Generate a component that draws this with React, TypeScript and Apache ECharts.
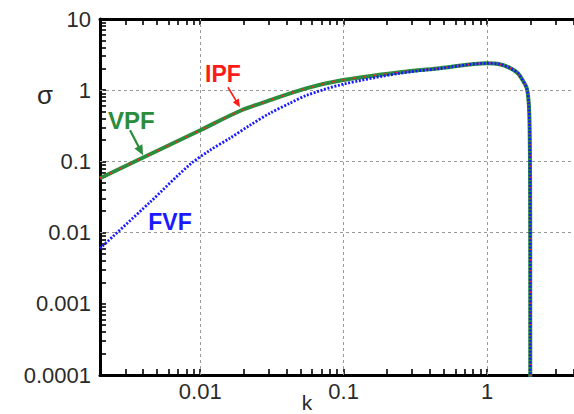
import React, { useEffect, useRef } from "react";
import * as echarts from "echarts";

// ---- data ----
const vpfK = [0.002, 0.0033, 0.01, 0.0189, 0.0306, 0.0555, 0.097, 0.247, 0.468, 1.0, 1.22, 1.44, 1.64, 1.77, 1.89, 1.95, 1.98, 1.995, 1.999, 1.9999, 2.0];
const vpfSigma = [0.058, 0.094, 0.274, 0.51, 0.724, 1.07, 1.38, 1.79, 2.04, 2.39, 2.32, 2.06, 1.73, 1.38, 1.07, 0.68, 0.3, 0.05, 0.005, 0.0003, 0.00001];

const ipfK = [0.002, 0.0033, 0.01, 0.0189, 0.0306, 0.0555, 0.097, 0.247, 0.468, 1.0, 1.22, 1.44, 1.64, 1.77, 1.89, 1.95, 1.98, 1.995, 1.999, 1.9999, 2.0];
const ipfSigma = [0.058, 0.094, 0.274, 0.51, 0.724, 1.07, 1.38, 1.79, 2.04, 2.39, 2.32, 2.06, 1.73, 1.38, 1.07, 0.68, 0.3, 0.05, 0.005, 0.0003, 0.00001];

const fvfK = [0.002, 0.00446, 0.00847, 0.0117, 0.0161, 0.0222, 0.0306, 0.0422, 0.0555, 0.097, 0.247, 0.468, 1.0, 1.22, 1.44, 1.64, 1.77, 1.89, 1.95, 1.98, 1.995, 1.999, 1.9999, 2.0];
const fvfSigma = [0.006, 0.0267, 0.0904, 0.1436, 0.212, 0.322, 0.475, 0.657, 0.851, 1.2, 1.73, 2.02, 2.39, 2.32, 2.06, 1.73, 1.38, 1.07, 0.68, 0.3, 0.05, 0.005, 0.0003, 0.00001];

const xLabelValues = [0.01, 0.1, 1];
const xLabelTexts = ["0.01", "0.1", "1"];
const yLabelValues = [0.0001, 0.001, 0.01, 0.1, 1, 10];
const yLabelTexts = ["0.0001", "0.001", "0.01", "0.1", "1", "10"];
const xGridValues = [0.01, 0.1, 1];
const yGridValues = [0.001, 0.01, 0.1, 1];

const X_MIN = 0.002;
const X_MAX = 10;
const Y_MIN = 0.0001;
const Y_MAX = 10;

// annotation anchors in data space
const annotations = [
  { text: "IPF", color: "#ff1a1a", k: 0.0144, s: 1.71, size: 23 },
  { text: "VPF", color: "#2b8c3c", k: 0.00331, s: 0.379, size: 24 },
  { text: "FVF", color: "#1a1aff", k: 0.00615, s: 0.0142, size: 23 },
];
const arrows = [
  { color: "#ff1a1a", k1: 0.0156, s1: 1.1, k2: 0.0189, s2: 0.577, w: 1.6, head: 8, hw: 3.5 },
  { color: "#2b8c3c", k1: 0.00324, s1: 0.274, k2: 0.00399, s2: 0.122, w: 2.2, head: 10, hw: 4.5 },
];

const FONT = '"Liberation Sans", Arial, sans-serif';
const CHART_W = 640;
const CHART_H = 414;

function decadeTicks(min: number, max: number, decades: number[]) {
  const out: number[] = [];
  decades.forEach((d) => {
    for (let m = 1; m <= 9; m++) {
      const v = d * m;
      if (v >= min * 0.999 && v <= max * 1.001) out.push(v);
    }
  });
  out.push(max);
  return out;
}

const xTicks = decadeTicks(X_MIN, X_MAX, [0.001, 0.01, 0.1, 1]);
const yTicks = decadeTicks(Y_MIN, Y_MAX, [0.0001, 0.001, 0.01, 0.1, 1]);

function labelFor(values: number[], texts: string[]) {
  return (v: number) => {
    for (let i = 0; i < values.length; i++) {
      if (Math.abs(Math.log10(v) - Math.log10(values[i])) < 1e-6) return texts[i];
    }
    return "";
  };
}

const zip = (a: number[], b: number[]) => a.map((v, i) => [v, b[i]]);

export default function App() {
  const ref = useRef<HTMLDivElement>(null);
  useEffect(() => {
    if (!ref.current) return;
    const chart = echarts.init(ref.current, null, { renderer: "svg" });
    const axisLine = { show: true, onZero: false, lineStyle: { color: "#000", width: 3 } };
    const tickStyle = { color: "#000", width: 1.6 };
    const option: any = {
      animation: false,
      backgroundColor: "#fff",
      grid: { left: 100, top: 19, right: CHART_W - 630.5, bottom: 39, containLabel: false },
      xAxis: [
        {
          type: "log",
          min: X_MIN,
          max: X_MAX,
          position: "bottom",
          axisLine,
          axisTick: { show: true, inside: true, length: 6, customValues: xTicks, lineStyle: tickStyle },
          axisLabel: {
            customValues: xLabelValues,
            formatter: labelFor(xLabelValues, xLabelTexts),
            fontSize: 22,
            color: "#2a2a2a",
            fontFamily: FONT,
            margin: 5,
          },
          splitLine: { show: false },
        },
        {
          type: "log",
          min: X_MIN,
          max: X_MAX,
          position: "top",
          axisLine,
          axisTick: { show: true, inside: true, length: 6, customValues: xTicks, lineStyle: tickStyle },
          axisLabel: { show: false },
          splitLine: { show: false },
        },
      ],
      yAxis: [
        {
          type: "log",
          min: Y_MIN,
          max: Y_MAX,
          position: "left",
          axisLine,
          axisTick: { show: true, inside: true, length: 6, customValues: yTicks, lineStyle: tickStyle },
          axisLabel: {
            customValues: yLabelValues,
            formatter: labelFor(yLabelValues, yLabelTexts),
            fontSize: 22,
            color: "#2a2a2a",
            fontFamily: FONT,
            margin: 9,
          },
          splitLine: { show: false },
        },
      ],
      series: [
        {
          name: "grid",
          type: "line",
          data: [],
          z: 1,
          markLine: {
            silent: true,
            symbol: "none",
            z: 1,
            label: { show: false },
            lineStyle: { color: "#9a9a9a", width: 1, type: [3, 3] },
            data: [
              ...xGridValues.map((v) => ({ xAxis: v })),
              ...yGridValues.map((v) => ({ yAxis: v })),
            ],
          },
        },
        {
          name: "VPF",
          type: "line",
          data: zip(vpfK, vpfSigma),
          showSymbol: false,
          symbol: "none",
          smooth: 0.3,
          lineStyle: { color: "#2b8c3c", width: 4 },
          z: 3,
        },
        {
          name: "IPF",
          type: "line",
          data: zip(ipfK, ipfSigma),
          showSymbol: false,
          symbol: "none",
          smooth: 0.3,
          lineStyle: { color: "#ff2020", width: 1.5, type: [2.5, 8] },
          z: 4,
        },
        {
          name: "FVF",
          type: "line",
          data: zip(fvfK, fvfSigma),
          showSymbol: false,
          symbol: "none",
          smooth: 0.3,
          lineStyle: { color: "#1a1aff", width: 2.8, type: [2, 1.6] },
          z: 5,
        },
      ],
    };
    chart.setOption(option);

    const toPx = (k: number, s: number) => chart.convertToPixel({ seriesIndex: 1 }, [k, s]) as number[];
    const graphics: any[] = [];
    annotations.forEach((a) => {
      const p = toPx(a.k, a.s);
      graphics.push({
        type: "text",
        x: p[0],
        y: p[1],
        z: 10,
        style: {
          text: a.text,
          fill: a.color,
          font: `bold ${a.size}px ${FONT}`,
          align: "center",
          verticalAlign: "middle",
        },
      });
    });
    arrows.forEach((a) => {
      const p1 = toPx(a.k1, a.s1);
      const p2 = toPx(a.k2, a.s2);
      const dx = p2[0] - p1[0];
      const dy = p2[1] - p1[1];
      const len = Math.sqrt(dx * dx + dy * dy);
      const ux = dx / len;
      const uy = dy / len;
      const bx = p2[0] - ux * a.head;
      const by = p2[1] - uy * a.head;
      graphics.push({
        type: "line",
        z: 10,
        shape: { x1: p1[0], y1: p1[1], x2: bx + ux * 1, y2: by + uy * 1 },
        style: { stroke: a.color, lineWidth: a.w },
      });
      graphics.push({
        type: "polygon",
        z: 10,
        shape: {
          points: [
            [p2[0], p2[1]],
            [bx - uy * a.hw, by + ux * a.hw],
            [bx + uy * a.hw, by - ux * a.hw],
          ],
        },
        style: { fill: a.color },
      });
    });
    graphics.push({
      type: "text",
      x: 45,
      y: 95,
      style: { text: "σ", fill: "#2a2a2a", font: `26px ${FONT}`, align: "center", verticalAlign: "middle" },
    });
    graphics.push({
      type: "text",
      x: 307,
      y: 402.5,
      style: { text: "k", fill: "#2a2a2a", font: `21px ${FONT}`, align: "center", verticalAlign: "middle" },
    });
    chart.setOption({ graphic: graphics });

    return () => chart.dispose();
  }, []);
  return (
    <div style={{ position: "absolute", left: 0, top: 0, width: 574, height: 414, overflow: "hidden" }}>
      <div ref={ref} style={{ width: CHART_W, height: CHART_H }} />
    </div>
  );
}
